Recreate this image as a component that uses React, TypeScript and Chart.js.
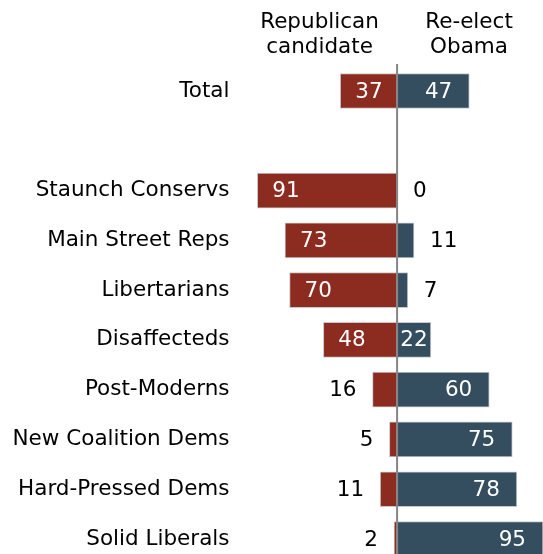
import React, { useEffect, useRef } from "react";
import { Chart, registerables } from "chart.js";

Chart.register(...registerables);

const categories = [
  "Total",
  "",
  "Staunch Conservs",
  "Main Street Reps",
  "Libertarians",
  "Disaffecteds",
  "Post-Moderns",
  "New Coalition Dems",
  "Hard-Pressed Dems",
  "Solid Liberals",
];
const republican: (number | null)[] = [37, null, 91, 73, 70, 48, 16, 5, 11, 2];
const obama: (number | null)[] = [47, null, 0, 11, 7, 22, 60, 75, 78, 95];
const headerRep = ["Republican", "candidate"];
const headerObama = ["Re-elect", "Obama"];

const RED = "#8c2b1f";
const BLUE = "#344e60";
const FONT = "DejaVu Sans";
const FS = 21.5;

export default function App() {
  const ref = useRef<HTMLCanvasElement>(null);
  useEffect(() => {
    const labelPlugin = {
      id: "labels",
      afterDatasetsDraw(chart: any) {
        const ctx = chart.ctx;
        const xs = chart.scales.x;
        const zero = xs.getPixelForValue(0);
        ctx.save();
        ctx.font = `${FS}px "${FONT}"`;
        ctx.textBaseline = "middle";
        chart.getDatasetMeta(0).data.forEach((el: any, i: number) => {
          const v = republican[i];
          if (v == null) return;
          const px = xs.getPixelForValue(-v);
          if (v >= 30) {
            ctx.fillStyle = "#ffffff";
            ctx.textAlign = "left";
            ctx.fillText(String(v), px + 15, el.y + 1);
          } else {
            ctx.fillStyle = "#000000";
            ctx.textAlign = "right";
            ctx.fillText(String(v), px - 16, el.y + 1);
          }
        });
        chart.getDatasetMeta(1).data.forEach((el: any, i: number) => {
          const v = obama[i];
          if (v == null) return;
          const px = xs.getPixelForValue(v);
          if (v >= 40) {
            ctx.fillStyle = "#ffffff";
            ctx.textAlign = "right";
            ctx.fillText(String(v), px - 17, el.y + 1);
          } else if (v >= 20) {
            ctx.fillStyle = "#ffffff";
            ctx.textAlign = "center";
            ctx.fillText(String(v), (px + zero) / 2, el.y + 1);
          } else {
            ctx.fillStyle = "#000000";
            ctx.textAlign = "left";
            ctx.fillText(String(v), px + 16, el.y + 1);
          }
        });
        ctx.strokeStyle = "#858585";
        ctx.lineWidth = 2;
        ctx.beginPath();
        ctx.moveTo(zero, 64);
        ctx.lineTo(zero, chart.height);
        ctx.stroke();
        ctx.fillStyle = "#000000";
        ctx.textAlign = "center";
        ctx.textBaseline = "middle";
        headerRep.forEach((t, k) => ctx.fillText(t, 319.5, 22 + k * 25));
        headerObama.forEach((t, k) => ctx.fillText(t, 469, 22 + k * 25));
        ctx.restore();
      },
    };

    const chart = new Chart(ref.current!, {
      type: "bar",
      data: {
        labels: categories,
        datasets: [
          {
            label: "Republican candidate",
            data: republican.map((v) => (v == null ? null : -v)),
            backgroundColor: RED,
            borderColor: "#c9c9c9",
            borderWidth: 1,
            borderSkipped: false,
            barThickness: 35,
            grouped: false,
            clip: false as any,
          },
          {
            label: "Re-elect Obama",
            data: obama,
            backgroundColor: BLUE,
            borderColor: "#c9c9c9",
            borderWidth: 1,
            borderSkipped: false,
            barThickness: 35,
            grouped: false,
            clip: false as any,
          },
        ],
      },
      options: {
        indexAxis: "y",
        animation: false,
        responsive: false,
        maintainAspectRatio: false,
        layout: { padding: { top: 91, bottom: 15, left: 0, right: 0 } },
        plugins: { legend: { display: false }, tooltip: { enabled: false } },
        scales: {
          x: {
            min: -100,
            max: 95,
            display: false,
          },
          y: {
            offset: false,
            grid: { display: false, drawTicks: false },
            border: { display: false },
            ticks: {
              color: "#000000",
              font: { family: FONT, size: FS },
              padding: 14,
              autoSkip: false,
            },
            afterFit: (s: any) => {
              s.width = 243.5;
              s.paddingTop = 0;
              s.paddingBottom = 0;
            },
          },
        },
      },
      plugins: [labelPlugin],
    });
    return () => chart.destroy();
  }, []);
  return (
    <div style={{ position: "absolute", left: 0, top: 0, width: 543, height: 554 }}>
      <canvas ref={ref} width={543} height={554} style={{ display: "block" }} />
    </div>
  );
}
